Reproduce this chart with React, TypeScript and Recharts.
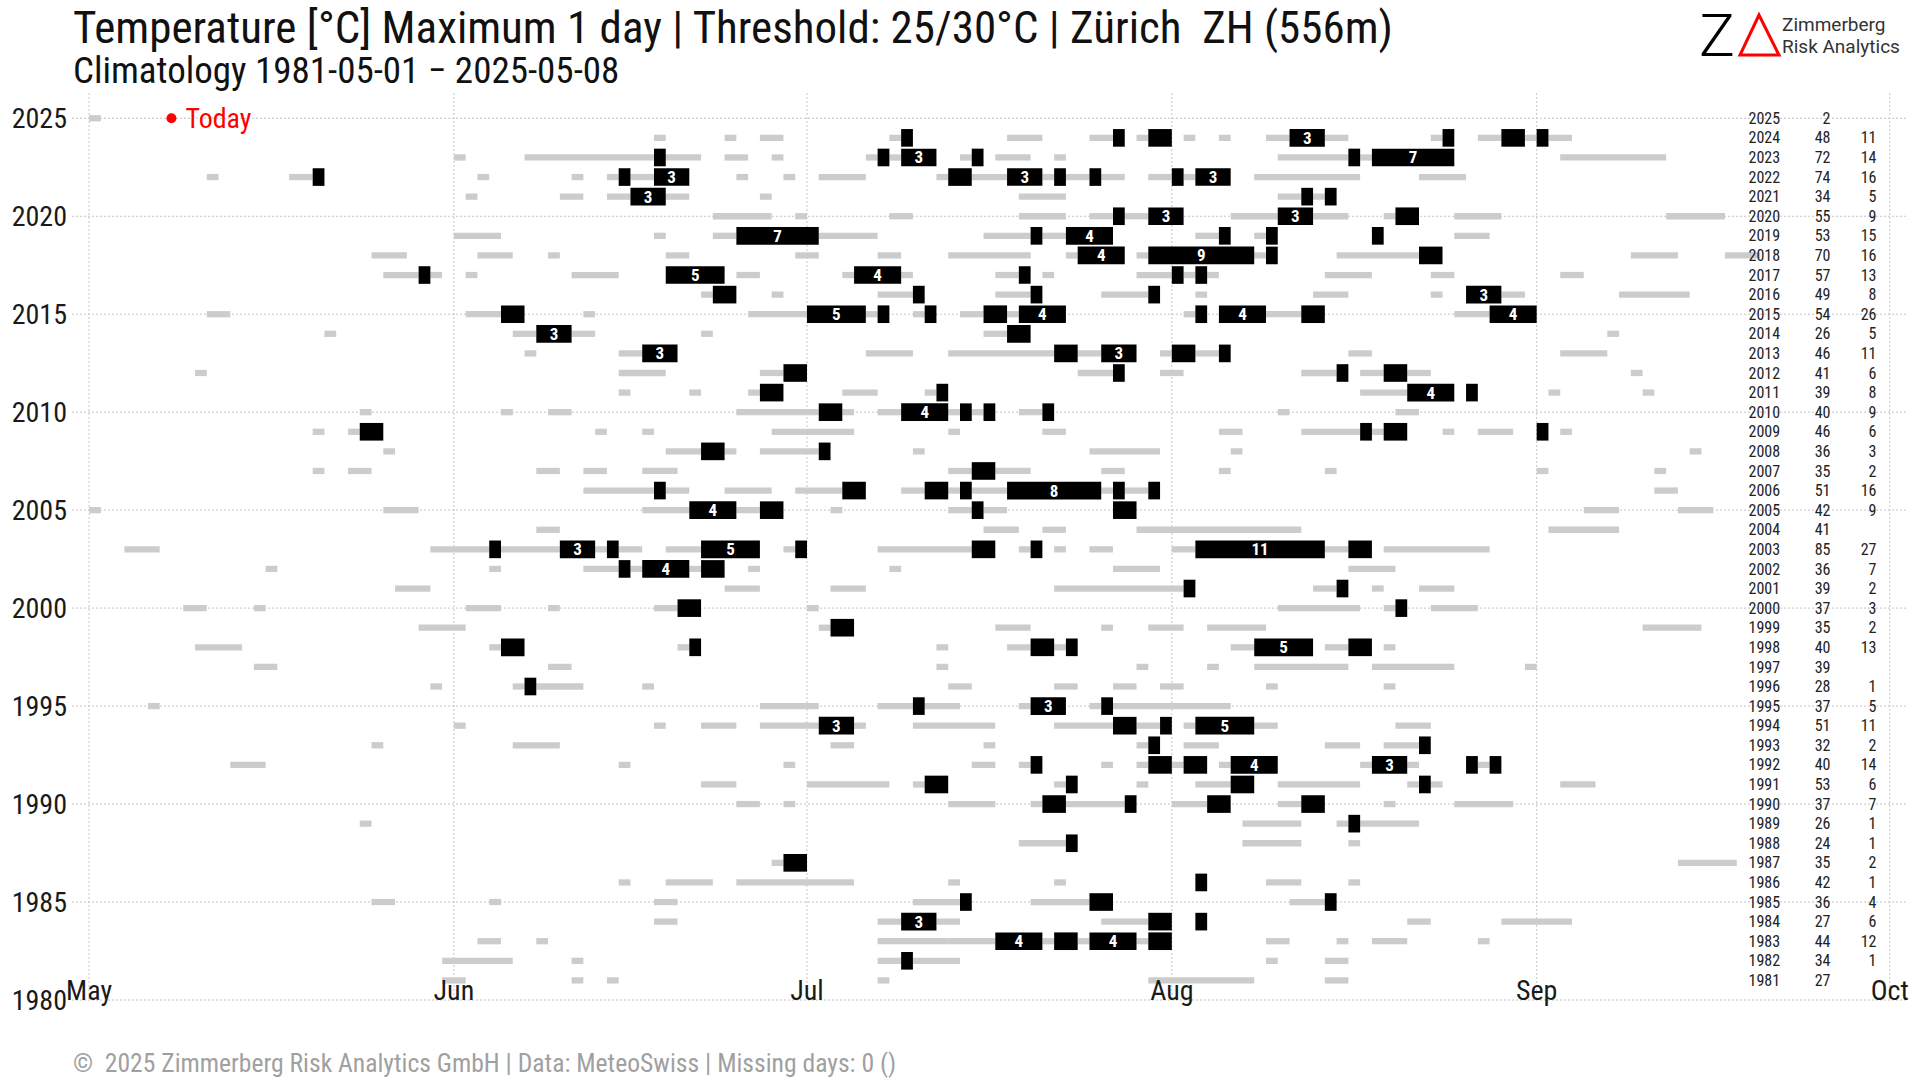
import React from 'react';
import { ComposedChart, XAxis, YAxis, ReferenceArea, ReferenceDot, CartesianGrid, Scatter } from 'recharts';

const FONT = '"Roboto Condensed","Liberation Sans Narrow","Arial Narrow","DejaVu Sans Condensed",Roboto,sans-serif';

// ---- axis ticks ----
const MONTH_TICKS = [0, 31, 61, 92, 123, 153]; // days since May 1
const MONTH_LABELS = ['May', 'Jun', 'Jul', 'Aug', 'Sep', 'Oct'];
const YEAR_TICKS = [1980, 1985, 1990, 1995, 2000, 2005, 2010, 2015, 2020, 2025];

// ---- table on the right ----
const YEARS = [2025, 2024, 2023, 2022, 2021, 2020, 2019, 2018, 2017, 2016, 2015, 2014, 2013, 2012, 2011, 2010, 2009, 2008, 2007, 2006, 2005, 2004, 2003, 2002, 2001, 2000, 1999, 1998, 1997, 1996, 1995, 1994, 1993, 1992, 1991, 1990, 1989, 1988, 1987, 1986, 1985, 1984, 1983, 1982, 1981];
const SUMMER_DAYS = [2, 48, 72, 74, 34, 55, 53, 70, 57, 49, 54, 26, 46, 41, 39, 40, 46, 36, 35, 51, 42, 41, 85, 36, 39, 37, 35, 40, 39, 28, 37, 51, 32, 40, 53, 37, 26, 24, 35, 42, 36, 27, 44, 34, 27];
const HOT_DAYS: (number | null)[] = [null, 11, 14, 16, 5, 9, 15, 16, 13, 8, 26, 5, 11, 6, 8, 9, 6, 3, 2, 16, 9, null, 27, 7, 2, 3, 2, 13, null, 1, 5, 11, 2, 14, 6, 7, 1, 1, 2, 1, 4, 6, 12, 1, null];

// ---- runs: [year, first day (0 = May 1), length in days] ----
const WARM_RUNS: [number, number, number][] = [
  [2025, 0, 1],
  [2024, 48, 1], [2024, 54, 1], [2024, 57, 2], [2024, 68, 1], [2024, 78, 3], [2024, 85, 2], [2024, 89, 1], [2024, 93, 1], [2024, 96, 1], [2024, 100, 2], [2024, 105, 2], [2024, 114, 1], [2024, 118, 2], [2024, 122, 1], [2024, 124, 2],
  [2023, 31, 1], [2023, 37, 11], [2023, 49, 3], [2023, 54, 2], [2023, 58, 1], [2023, 66, 1], [2023, 68, 1], [2023, 74, 1], [2023, 77, 3], [2023, 82, 1], [2023, 101, 6], [2023, 108, 1], [2023, 125, 9],
  [2022, 10, 1], [2022, 17, 2], [2022, 33, 1], [2022, 41, 1], [2022, 44, 1], [2022, 46, 2], [2022, 55, 1], [2022, 59, 1], [2022, 62, 4], [2022, 72, 1], [2022, 75, 3], [2022, 81, 1], [2022, 83, 2], [2022, 86, 2], [2022, 90, 2], [2022, 93, 1], [2022, 99, 9], [2022, 113, 4],
  [2021, 32, 1], [2021, 40, 2], [2021, 44, 2], [2021, 49, 2], [2021, 57, 1], [2021, 79, 4], [2021, 101, 2], [2021, 104, 1],
  [2020, 53, 5], [2020, 60, 1], [2020, 68, 2], [2020, 79, 4], [2020, 85, 2], [2020, 88, 2], [2020, 97, 4], [2020, 104, 3], [2020, 110, 1], [2020, 116, 4], [2020, 134, 5],
  [2019, 31, 4], [2019, 48, 1], [2019, 53, 2], [2019, 62, 5], [2019, 76, 4], [2019, 81, 2], [2019, 94, 2], [2019, 99, 1], [2019, 116, 3],
  [2018, 24, 3], [2018, 33, 3], [2018, 39, 1], [2018, 49, 2], [2018, 60, 2], [2018, 67, 2], [2018, 73, 7], [2018, 83, 1], [2018, 89, 1], [2018, 99, 1], [2018, 106, 7], [2018, 131, 4], [2018, 139, 3],
  [2017, 25, 3], [2017, 29, 1], [2017, 32, 1], [2017, 41, 4], [2017, 55, 2], [2017, 64, 1], [2017, 69, 1], [2017, 77, 2], [2017, 81, 1], [2017, 89, 3], [2017, 93, 1], [2017, 95, 1], [2017, 105, 4], [2017, 114, 2], [2017, 125, 2],
  [2016, 52, 1], [2016, 58, 1], [2016, 67, 3], [2016, 77, 3], [2016, 86, 4], [2016, 94, 1], [2016, 104, 3], [2016, 114, 1], [2016, 120, 2], [2016, 130, 6],
  [2015, 10, 2], [2015, 32, 3], [2015, 42, 1], [2015, 56, 5], [2015, 66, 1], [2015, 70, 1], [2015, 74, 2], [2015, 78, 1], [2015, 93, 1], [2015, 100, 3], [2015, 116, 3],
  [2014, 20, 1], [2014, 36, 2], [2014, 41, 2], [2014, 52, 1], [2014, 76, 2], [2014, 129, 1],
  [2013, 37, 1], [2013, 45, 2], [2013, 66, 4], [2013, 73, 9], [2013, 84, 2], [2013, 91, 1], [2013, 94, 2], [2013, 107, 2], [2013, 125, 4],
  [2012, 9, 1], [2012, 45, 4], [2012, 57, 2], [2012, 84, 3], [2012, 91, 2], [2012, 103, 3], [2012, 108, 2], [2012, 112, 2], [2012, 131, 1],
  [2011, 45, 1], [2011, 51, 1], [2011, 56, 1], [2011, 64, 3], [2011, 71, 1], [2011, 108, 4], [2011, 124, 1], [2011, 132, 1],
  [2010, 23, 1], [2010, 35, 1], [2010, 39, 2], [2010, 55, 7], [2010, 64, 1], [2010, 67, 2], [2010, 73, 1], [2010, 75, 1], [2010, 79, 2], [2010, 101, 1], [2010, 111, 2],
  [2009, 19, 1], [2009, 22, 1], [2009, 43, 1], [2009, 47, 1], [2009, 58, 7], [2009, 73, 1], [2009, 81, 2], [2009, 96, 2], [2009, 103, 5], [2009, 109, 1], [2009, 115, 1], [2009, 118, 3], [2009, 125, 1],
  [2008, 25, 1], [2008, 49, 3], [2008, 54, 1], [2008, 57, 5], [2008, 70, 1], [2008, 85, 6], [2008, 97, 1], [2008, 136, 1],
  [2007, 19, 1], [2007, 22, 2], [2007, 38, 2], [2007, 42, 2], [2007, 47, 3], [2007, 73, 2], [2007, 77, 3], [2007, 86, 2], [2007, 96, 1], [2007, 105, 1], [2007, 123, 1], [2007, 133, 1],
  [2006, 42, 6], [2006, 49, 2], [2006, 54, 4], [2006, 60, 4], [2006, 69, 2], [2006, 73, 1], [2006, 75, 3], [2006, 86, 1], [2006, 88, 2], [2006, 133, 2],
  [2005, 0, 1], [2005, 25, 3], [2005, 47, 4], [2005, 55, 2], [2005, 63, 1], [2005, 73, 2], [2005, 76, 2], [2005, 127, 3], [2005, 135, 3],
  [2004, 38, 2], [2004, 76, 3], [2004, 81, 2], [2004, 89, 14], [2004, 124, 6],
  [2003, 3, 3], [2003, 29, 5], [2003, 35, 5], [2003, 43, 1], [2003, 45, 2], [2003, 49, 3], [2003, 59, 1], [2003, 67, 8], [2003, 79, 1], [2003, 82, 1], [2003, 85, 2], [2003, 92, 2], [2003, 105, 2], [2003, 110, 9],
  [2002, 15, 1], [2002, 34, 1], [2002, 42, 3], [2002, 46, 1], [2002, 51, 1], [2002, 56, 1], [2002, 68, 1], [2002, 87, 4], [2002, 107, 4],
  [2001, 26, 3], [2001, 54, 3], [2001, 63, 3], [2001, 82, 11], [2001, 104, 2], [2001, 109, 1], [2001, 113, 3],
  [2000, 8, 2], [2000, 14, 1], [2000, 32, 3], [2000, 39, 1], [2000, 48, 2], [2000, 61, 1], [2000, 101, 7], [2000, 110, 1], [2000, 114, 4],
  [1999, 28, 4], [1999, 62, 1], [1999, 77, 3], [1999, 86, 1], [1999, 90, 3], [1999, 95, 5], [1999, 132, 5],
  [1998, 9, 4], [1998, 34, 1], [1998, 50, 1], [1998, 72, 1], [1998, 78, 2], [1998, 82, 1], [1998, 97, 2], [1998, 105, 2], [1998, 110, 1],
  [1997, 14, 2], [1997, 39, 2], [1997, 72, 1], [1997, 89, 1], [1997, 95, 1], [1997, 99, 8], [1997, 109, 7], [1997, 122, 1],
  [1996, 29, 1], [1996, 36, 1], [1996, 38, 4], [1996, 47, 1], [1996, 73, 2], [1996, 82, 2], [1996, 87, 2], [1996, 91, 2], [1996, 100, 1], [1996, 110, 1],
  [1995, 5, 1], [1995, 57, 5], [1995, 67, 3], [1995, 71, 3], [1995, 79, 1], [1995, 85, 1], [1995, 87, 10],
  [1994, 31, 1], [1994, 48, 1], [1994, 52, 3], [1994, 57, 5], [1994, 65, 1], [1994, 70, 7], [1994, 82, 5], [1994, 89, 2], [1994, 93, 1], [1994, 99, 2], [1994, 111, 3],
  [1993, 24, 1], [1993, 36, 4], [1993, 63, 2], [1993, 76, 1], [1993, 89, 1], [1993, 93, 3], [1993, 105, 3], [1993, 110, 3],
  [1992, 12, 3], [1992, 45, 1], [1992, 59, 1], [1992, 75, 2], [1992, 79, 1], [1992, 86, 1], [1992, 89, 1], [1992, 92, 1], [1992, 96, 1], [1992, 108, 1], [1992, 112, 1], [1992, 118, 1],
  [1991, 52, 3], [1991, 61, 7], [1991, 70, 1], [1991, 82, 1], [1991, 89, 1], [1991, 94, 3], [1991, 101, 7], [1991, 112, 1], [1991, 114, 1], [1991, 125, 3],
  [1990, 55, 2], [1990, 59, 1], [1990, 73, 4], [1990, 80, 1], [1990, 83, 5], [1990, 92, 3], [1990, 101, 2], [1990, 110, 1], [1990, 116, 5],
  [1989, 23, 1], [1989, 98, 5], [1989, 106, 1], [1989, 108, 5],
  [1988, 79, 4], [1988, 98, 5], [1988, 107, 1],
  [1987, 58, 1], [1987, 135, 5],
  [1986, 45, 1], [1986, 49, 4], [1986, 55, 10], [1986, 73, 1], [1986, 82, 1], [1986, 100, 3], [1986, 107, 1],
  [1985, 24, 2], [1985, 34, 1], [1985, 48, 2], [1985, 70, 4], [1985, 80, 5], [1985, 102, 3],
  [1984, 48, 2], [1984, 67, 2], [1984, 72, 2], [1984, 86, 4], [1984, 112, 2], [1984, 120, 6],
  [1983, 33, 2], [1983, 38, 1], [1983, 67, 6], [1983, 73, 4], [1983, 81, 1], [1983, 84, 1], [1983, 89, 1], [1983, 100, 2], [1983, 106, 1], [1983, 109, 3], [1983, 118, 1],
  [1982, 30, 6], [1982, 41, 1], [1982, 67, 2], [1982, 70, 4], [1982, 100, 1], [1982, 105, 2],
  [1981, 30, 2], [1981, 41, 1], [1981, 44, 1], [1981, 67, 1], [1981, 90, 9], [1981, 105, 2],
];

const HOT_RUNS: [number, number, number][] = [
  [2024, 69, 1], [2024, 87, 1], [2024, 90, 2], [2024, 102, 3], [2024, 115, 1], [2024, 120, 2], [2024, 123, 1],
  [2023, 48, 1], [2023, 67, 1], [2023, 69, 3], [2023, 75, 1], [2023, 107, 1], [2023, 109, 7],
  [2022, 19, 1], [2022, 45, 1], [2022, 48, 3], [2022, 73, 2], [2022, 78, 3], [2022, 82, 1], [2022, 85, 1], [2022, 92, 1], [2022, 94, 3],
  [2021, 46, 3], [2021, 103, 1], [2021, 105, 1],
  [2020, 87, 1], [2020, 90, 3], [2020, 101, 3], [2020, 111, 2],
  [2019, 55, 7], [2019, 80, 1], [2019, 83, 4], [2019, 96, 1], [2019, 100, 1], [2019, 109, 1],
  [2018, 84, 4], [2018, 90, 9], [2018, 100, 1], [2018, 113, 2],
  [2017, 28, 1], [2017, 49, 5], [2017, 65, 4], [2017, 79, 1], [2017, 92, 1], [2017, 94, 1],
  [2016, 53, 2], [2016, 70, 1], [2016, 80, 1], [2016, 90, 1], [2016, 117, 3],
  [2015, 35, 2], [2015, 61, 5], [2015, 67, 1], [2015, 71, 1], [2015, 76, 2], [2015, 79, 4], [2015, 94, 1], [2015, 96, 4], [2015, 103, 2], [2015, 119, 4],
  [2014, 38, 3], [2014, 78, 2],
  [2013, 47, 3], [2013, 82, 2], [2013, 86, 3], [2013, 92, 2], [2013, 96, 1],
  [2012, 59, 2], [2012, 87, 1], [2012, 106, 1], [2012, 110, 2],
  [2011, 57, 2], [2011, 72, 1], [2011, 112, 4], [2011, 117, 1],
  [2010, 62, 2], [2010, 69, 4], [2010, 74, 1], [2010, 76, 1], [2010, 81, 1],
  [2009, 23, 2], [2009, 108, 1], [2009, 110, 2], [2009, 123, 1],
  [2008, 52, 2], [2008, 62, 1],
  [2007, 75, 2],
  [2006, 48, 1], [2006, 64, 2], [2006, 71, 2], [2006, 74, 1], [2006, 78, 8], [2006, 87, 1], [2006, 90, 1],
  [2005, 51, 4], [2005, 57, 2], [2005, 75, 1], [2005, 87, 2],
  [2003, 34, 1], [2003, 40, 3], [2003, 44, 1], [2003, 52, 5], [2003, 60, 1], [2003, 75, 2], [2003, 80, 1], [2003, 94, 11], [2003, 107, 2],
  [2002, 45, 1], [2002, 47, 4], [2002, 52, 2],
  [2001, 93, 1], [2001, 106, 1],
  [2000, 50, 2], [2000, 111, 1],
  [1999, 63, 2],
  [1998, 35, 2], [1998, 51, 1], [1998, 80, 2], [1998, 83, 1], [1998, 99, 5], [1998, 107, 2],
  [1996, 37, 1],
  [1995, 70, 1], [1995, 80, 3], [1995, 86, 1],
  [1994, 62, 3], [1994, 87, 2], [1994, 91, 1], [1994, 94, 5],
  [1993, 90, 1], [1993, 113, 1],
  [1992, 80, 1], [1992, 90, 2], [1992, 93, 2], [1992, 97, 4], [1992, 109, 3], [1992, 117, 1], [1992, 119, 1],
  [1991, 71, 2], [1991, 83, 1], [1991, 97, 2], [1991, 113, 1],
  [1990, 81, 2], [1990, 88, 1], [1990, 95, 2], [1990, 103, 2],
  [1989, 107, 1],
  [1988, 83, 1],
  [1987, 59, 2],
  [1986, 94, 1],
  [1985, 74, 1], [1985, 85, 2], [1985, 105, 1],
  [1984, 69, 3], [1984, 90, 2], [1984, 94, 1],
  [1983, 77, 4], [1983, 82, 2], [1983, 85, 4], [1983, 90, 2],
  [1982, 69, 1],
];

const TODAY_DAY = 7; // 2025-05-08
const TODAY_YEAR = 2025;

// layout constants (not data)
const TABLE_COL_DAY = 141;
const W = 1920;
const H = 1080;
const GRID = '#c4c4c4';

const tableRows = YEARS.map((year, i) => ({ x: TABLE_COL_DAY, y: year, summer: SUMMER_DAYS[i], hot: HOT_DAYS[i] }));

const TableShape = (props: any) => {
  const { cx, cy, payload } = props;
  return (
    <g fontFamily={FONT} fontSize={16} fill="#222">
      <text x={cx} y={cy} dy="0.35em" textAnchor="start">{payload.y}</text>
      <text x={cx + 82} y={cy} dy="0.35em" textAnchor="end">{payload.summer}</text>
      {payload.hot != null && (
        <text x={cx + 128} y={cy} dy="0.35em" textAnchor="end">{payload.hot}</text>
      )}
    </g>
  );
};

const XTick = (props: any) => {
  const { x, payload } = props;
  const idx = MONTH_TICKS.indexOf(payload.value);
  return (
    <text x={x} y={1000} textAnchor="middle" fontFamily={FONT} fontSize={28} fill="#1a1a1a">
      {MONTH_LABELS[idx]}
    </text>
  );
};

const YTick = (props: any) => {
  const { y, payload } = props;
  return (
    <text x={67} y={y} dy="0.36em" textAnchor="end" fontFamily={FONT} fontSize={28} fill="#1a1a1a">
      {payload.value}
    </text>
  );
};

export default function App() {
  return (
    <div style={{ position: 'absolute', left: 0, top: 0, width: W, height: H, background: '#fff', overflow: 'hidden' }}>
      <ComposedChart width={W} height={H} margin={{ top: 93, left: 71, right: 12, bottom: 60 }}>
        <CartesianGrid
          stroke={GRID}
          strokeDasharray="2 2"
          horizontalValues={YEAR_TICKS}
          verticalValues={MONTH_TICKS}
          syncWithTicks
        />
        <XAxis
          type="number"
          dataKey="x"
          domain={[-1.45, 154.55]}
          ticks={MONTH_TICKS}
          tick={<XTick />}
          axisLine={false}
          tickLine={false}
          height={20}
          allowDataOverflow
        />
        <YAxis
          type="number"
          dataKey="y"
          domain={[1980, 2026.29]}
          ticks={YEAR_TICKS}
          tick={<YTick />}
          axisLine={false}
          tickLine={false}
          width={1}
          allowDataOverflow
        />
        {WARM_RUNS.map(([yr, s, n], i) => (
          <ReferenceArea
            key={'w' + i}
            x1={s}
            x2={s + n}
            y1={yr - 0.16}
            y2={yr + 0.16}
            fill="#cccccc"
            fillOpacity={1}
            stroke="none"
            ifOverflow="visible"
          />
        ))}
        {HOT_RUNS.map(([yr, s, n], i) => (
          <ReferenceArea
            key={'h' + i}
            x1={s}
            x2={s + n}
            y1={yr - 0.45}
            y2={yr + 0.45}
            fill="#000000"
            fillOpacity={1}
            stroke="none"
            ifOverflow="visible"
            label={n >= 3 ? { value: String(n), position: 'center', fill: '#ffffff', fontSize: 17, fontWeight: 700, fontFamily: FONT } : undefined}
          />
        ))}
        <Scatter data={tableRows} shape={<TableShape />} isAnimationActive={false} />
        <ReferenceDot
          x={TODAY_DAY}
          y={TODAY_YEAR}
          r={5}
          fill="#ff0000"
          stroke="none"
          ifOverflow="visible"
          label={{ value: 'Today', position: 'right', fill: '#ff0000', fontSize: 28, fontFamily: FONT, offset: 9 }}
        />
      </ComposedChart>
      <svg width={W} height={H} style={{ position: 'absolute', left: 0, top: 0, pointerEvents: 'none' }}>
        <text x={73} y={43} fontFamily={FONT} fontSize={45} fill="#111" xmlSpace="preserve" style={{ whiteSpace: 'pre' }}>
          {'Temperature [°C] Maximum 1 day | Threshold: 25/30°C | Zürich  ZH (556m)'}
        </text>
        <text x={73} y={83} fontFamily={FONT} fontSize={37} fill="#111">
          Climatology 1981-05-01 − 2025-05-08
        </text>
        <text x={73} y={1072} fontFamily={FONT} fontSize={25.6} fill="#a0a0a0" xmlSpace="preserve" style={{ whiteSpace: 'pre' }}>
          {'©  2025 Zimmerberg Risk Analytics GmbH | Data: MeteoSwiss | Missing days: 0 ()'}
        </text>
        <text x={1699} y={56} fontFamily="Roboto, sans-serif" fontWeight={300} fontSize={60} fill="#000">Z</text>
        <polygon points="1759,15 1779,55 1740,55" fill="none" stroke="#ff0000" strokeWidth={3} />
        <text x={1782} y={31} fontFamily="Roboto, sans-serif" fontSize={19} fill="#333">Zimmerberg</text>
        <text x={1782} y={53} fontFamily="Roboto, sans-serif" fontSize={19} fill="#333">Risk Analytics</text>
      </svg>
    </div>
  );
}
